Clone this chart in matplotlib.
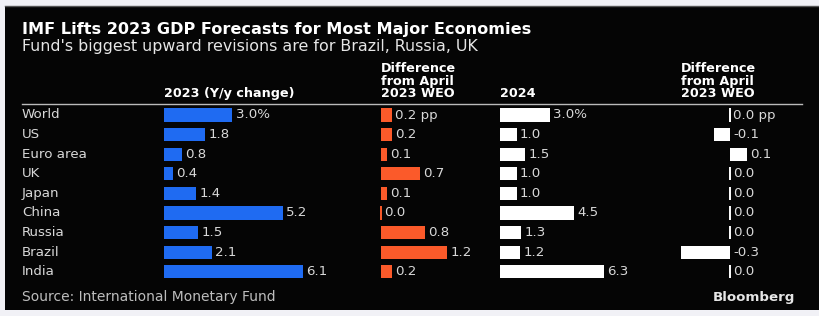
import matplotlib
matplotlib.use("Agg")
import matplotlib.pyplot as plt
from matplotlib.patches import Rectangle
from matplotlib.lines import Line2D

countries = ["World", "US", "Euro area", "UK", "Japan", "China", "Russia", "Brazil", "India"]
gdp_2023 = [3.0, 1.8, 0.8, 0.4, 1.4, 5.2, 1.5, 2.1, 6.1]
diff_2023 = [0.2, 0.2, 0.1, 0.7, 0.1, 0.0, 0.8, 1.2, 0.2]
gdp_2024 = [3.0, 1.0, 1.5, 1.0, 1.0, 4.5, 1.3, 1.2, 6.3]
diff_2024 = [0.0, -0.1, 0.1, 0.0, 0.0, 0.0, 0.0, -0.3, 0.0]

title = "IMF Lifts 2023 GDP Forecasts for Most Major Economies"
subtitle = "Fund's biggest upward revisions are for Brazil, Russia, UK"
headers = ["2023 (Y/y change)", "Difference\nfrom April\n2023 WEO", "2024", "Difference\nfrom April\n2023 WEO"]
source = "Source: International Monetary Fund"

W, H = 819, 316
BLUE = "#1f6bf2"
ORANGE = "#fb5a2a"
WHITE = "#ffffff"
TXT = "#d8d8d8"

fig = plt.figure(figsize=(W / 100, H / 100), dpi=100)
fig.patch.set_facecolor("#f1f1f6")

def fx(px):
    return px / W

def fy(py):
    return 1 - py / H

# black panel
fig.add_artist(Rectangle((fx(5), fy(310)), 1 - fx(5), fy(6) - fy(310),
                         transform=fig.transFigure, facecolor="#050505",
                         edgecolor="none", zorder=-10))
fig.add_artist(Line2D([fx(5), 1], [fy(6), fy(6)], color="#555555", lw=1, zorder=-9))

row0, step = 115.0, 19.6
top = row0 - step / 2
bottom = row0 + step * (len(countries) - 0.5)

def make_ax(left_px, width_px, xmin, xmax):
    ax = fig.add_axes([fx(left_px), fy(bottom), width_px / W, (bottom - top) / H])
    ax.set_xlim(xmin, xmax)
    ax.set_ylim(len(countries) - 0.5, -0.5)
    ax.axis("off")
    ax.set_zorder(5)
    return ax

bar_h = 0.68
LBL = 9.6
cols = [
    # left px, width px, scale px/unit, zero offset px, data, colour, first suffix
    (164, 215, 22.8, 0, gdp_2023, BLUE, "%"),
    (381, 115, 55.0, 0, diff_2023, ORANGE, " pp"),
    (500, 140, 16.5, 0, gdp_2024, WHITE, "%"),
    (650, 150, 165.0, 80, diff_2024, WHITE, " pp"),
]

for left, width, scale, zoff, vals, col, suf in cols:
    xmin = -zoff / scale
    xmax = (width - zoff) / scale
    ax = make_ax(left, width, xmin, xmax)
    ypos = list(range(len(vals)))
    ax.barh(ypos, vals, height=bar_h, color=col, linewidth=0)
    for i, v in enumerate(vals):
        if v == 0:
            ax.vlines(0, i - bar_h / 2, i + bar_h / 2, color=col, lw=1.4,
                      clip_on=False)
        lab = f"{v:.1f}" + (suf if i == 0 else "")
        xe = max(v, 0)
        ax.annotate(lab, (xe, i), xytext=(2.4, 0), textcoords="offset points",
                    ha="left", va="center", color=TXT, fontsize=LBL,
                    annotation_clip=False)

# country labels
for i, c in enumerate(countries):
    fig.text(fx(22), fy(row0 + i * step), c, color=TXT, fontsize=LBL,
             ha="left", va="center")

# headers
hdr_x = [164, 381, 500, 681]
for x, h in zip(hdr_x, headers):
    fig.text(fx(x), fy(97), h, color=WHITE, fontsize=9.2, fontweight="bold",
             ha="left", va="baseline", linespacing=0.95)

fig.add_artist(Line2D([fx(22), fx(802)], [fy(104), fy(104)], color="#bbbbbb", lw=1))

fig.text(fx(22), fy(34), title, color=WHITE, fontsize=11.6, fontweight="bold",
         ha="left", va="baseline")
fig.text(fx(22), fy(51), subtitle, color="#e6e6e6", fontsize=11.4,
         ha="left", va="baseline")

fig.text(fx(22), fy(300.5), source, color="#bdbdbd", fontsize=10,
         ha="left", va="baseline")
fig.text(fx(795), fy(300.5), "Bloomberg", color="#e6e6e6", fontsize=9.6,
         fontweight="bold", ha="right", va="baseline")

fig.savefig("out.png", dpi=100, facecolor=fig.get_facecolor())
